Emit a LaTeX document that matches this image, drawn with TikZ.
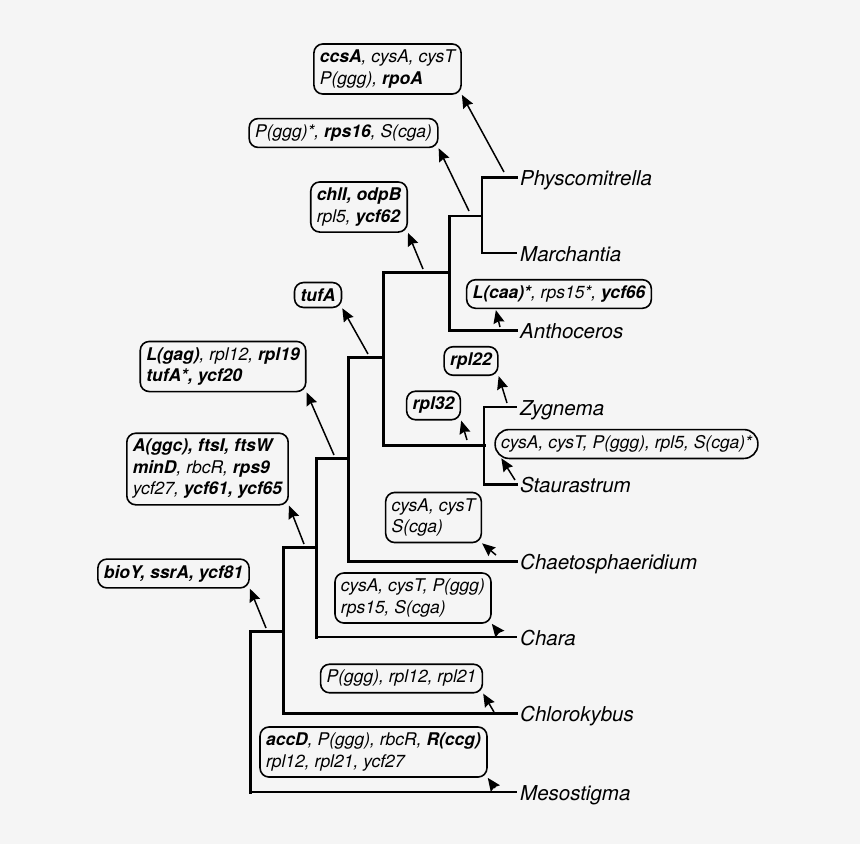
\documentclass[tikz,border=0pt]{standalone}
\usepackage{fontspec}
\setmainfont{TeX Gyre Heros}
\usetikzlibrary{arrows.meta,calc}
\definecolor{bgc}{RGB}{245,245,245}
\begin{document}
\begin{tikzpicture}[x=1pt,y=-1pt,
  lab/.style={draw, rounded corners=9pt, line width=1.6pt, align=left,
    font=\fontsize{17.5}{21.5}\selectfont\itshape, inner xsep=6pt, inner ysep=6pt},
  spc/.style={anchor=west, font=\fontsize{20.5}{24}\selectfont\itshape,
    inner xsep=4pt, inner ysep=0pt, text height=16.6pt, text depth=0pt},
  thk/.style={line width=3pt, line cap=rect},
  thn/.style={line width=2.3pt, line cap=rect},
  arr/.style={-{Stealth[length=13pt,width=11pt,inset=1.5pt]}, line width=1.5pt}]
\fill[bgc] (0,0) rectangle (860,844);
\useasboundingbox (0,0) rectangle (860,844);

% species
\node[spc] (Phys) at (516,177) {Physcomitrella};
\node[spc] (March) at (516,253) {Marchantia};
\node[spc] (Anth) at (516,330) {Anthoceros};
\node[spc] (Zyg) at (516,407) {Zygnema};
\node[spc] (Staur) at (516,484) {Staurastrum};
\node[spc] (Chaeto) at (516,561) {Chaetosphaeridium};
\node[spc] (Chara) at (516,637) {Chara};
\node[spc] (Chloro) at (516,713) {Chlorokybus};
\node[spc] (Meso) at (516,792) {Mesostigma};

% junctions
\coordinate (a1) at (482,216);
\coordinate (a2) at (449,272);
\coordinate (a3) at (484,445);
\coordinate (a4) at (383,357);
\coordinate (a5) at (348,458);
\coordinate (a6) at (316,547);
\coordinate (a7) at (283,631);
\coordinate (a8) at (250,631);

% tree
\draw[thk] (a1 |- Phys.west) -- (Phys.west);
\draw[thn] (a1 |- Phys.west) -- (a1 |- March.west) -- (March.west);
\draw[thn] (a2 |- a1) -- (a1);
\draw[thk] (a2 |- a1) -- (a2 |- Anth.west) -- (Anth.west);
\draw[thk] (a4 |- a2) -- (a2);
\draw[thk] (a4 |- a2) -- (a4 |- a3) -- (a3);
\draw[thn] (a3 |- Zyg.west) -- (Zyg.west);
\draw[thn] (a3 |- Zyg.west) -- (a3 |- Staur.west);
\draw[thk] (a3 |- Staur.west) -- (Staur.west);
\draw[thk] (a5 |- a4) -- (a4);
\draw[thk] (a5 |- a4) -- (a5 |- Chaeto.west) -- (Chaeto.west);
\draw[thk] (a6 |- a5) -- (a5);
\draw[thk] (a6 |- a5) -- (a6 |- Chara.west);
\draw[thn] (a6 |- Chara.west) -- (Chara.west);
\draw[thk] (a7 |- a6) -- (a6);
\draw[thk] (a7 |- a6) -- (a7 |- Chloro.west) -- (Chloro.west);
\draw[thk] (a8) -- (a7);
\draw[thk] (a8) -- (a8 |- Meso.west);
\draw[thn] (a8 |- Meso.west) -- (Meso.west);

% label boxes
\node[lab] (b1) at (387.5,69) {\textbf{ccsA}, cysA, cysT\\P(ggg), \textbf{rpoA}};
\node[lab] (b2) at (343.5,133) {P(ggg)*, \textbf{rps16}, S(cga)};
\node[lab] (b3) at (359,207) {\textbf{chlI, odpB}\\rpl5, \textbf{ycf62}};
\node[lab] (b4) at (318,295) {\textbf{tufA}};
\node[lab] (b5) at (559,294) {\textbf{L(caa)*}, rps15*, \textbf{ycf66}};
\node[lab] (b6) at (471,361) {\textbf{rpl22}};
\node[lab] (b7) at (433.5,405.5) {\textbf{rpl32}};
\node[lab, rounded corners=14pt] (b8) at (626.5,444) {cysA, cysT, P(ggg), rpl5, S(cga)*};
\node[lab] (b9) at (223,366.5) {\textbf{L(gag)}, rpl12, \textbf{rpl19}\\\textbf{tufA*, ycf20}};
\node[lab] (b10) at (207.5,469) {\textbf{A(ggc), ftsI, ftsW}\\\textbf{minD}, rbcR, \textbf{rps9}\\ycf27, \textbf{ycf61, ycf65}};
\node[lab] (b11) at (173.5,573.5) {\textbf{bioY, ssrA, ycf81}};
\node[lab] (b12) at (433.5,517.5) {cysA, cysT\\S(cga)};
\node[lab] (b13) at (413,598) {cysA, cysT, P(ggg)\\rps15, S(cga)};
\node[lab] (b14) at (401.5,678.5) {P(ggg), rpl12, rpl21};
\node[lab] (b15) at (373.5,752) {\textbf{accD}, P(ggg), rbcR, \textbf{R(ccg)}\\rpl12, rpl21, ycf27};

% arrow tails
\coordinate (t1) at (504,172);
\coordinate (t2) at (469,211);
\coordinate (t3) at (423,269);
\coordinate (t4) at (368,354);
\coordinate (t5) at (500,327);
\coordinate (t6) at (507,403);
\coordinate (t7) at (467,440);
\coordinate (t8) at (515,480);
\coordinate (t9) at (334,455);
\coordinate (t10) at (304,544);
\coordinate (t11) at (266,628);
\coordinate (t12) at (496,555);
\coordinate (t13) at (499,633);
\coordinate (t14) at (494,712);
\coordinate (t15) at (495,788);
\coordinate (h5) at ($(b5.south west)+(30,1)$);
\coordinate (h8) at ($(b8.south west)+(7,-1)$);

% arrows
\draw[arr] (t1) -- (b1.south east);
\draw[arr] (t2) -- (b2.south east);
\draw[arr] (t3) -- (b3.south east);
\draw[arr] (t4) -- (b4.south east);
\draw[arr] (t5) -- (h5);
\draw[arr] (t6) -- (b6.south east);
\draw[arr] (t7) -- (b7.south east);
\draw[arr] (t8) -- (h8);
\draw[arr] (t9) -- (b9.south east);
\draw[arr] (t10) -- (b10.south east);
\draw[arr] (t11) -- (b11.south east);
\draw[arr] (t12) -- (b12.south east);
\draw[arr] (t13) -- (b13.south east);
\draw[arr] (t14) -- (b14.south east);
\draw[arr] (t15) -- (b15.south east);
\end{tikzpicture}
\end{document}
